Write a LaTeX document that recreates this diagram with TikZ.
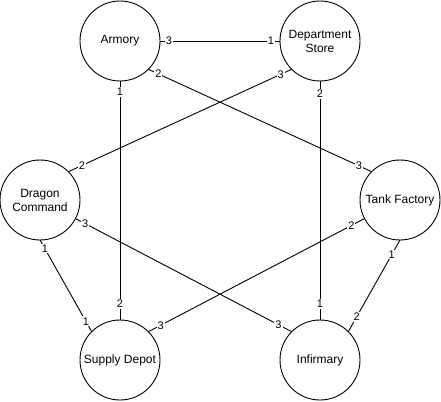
\documentclass[tikz,border=0pt]{standalone}
\usepackage{fontspec}
\setmainfont{Liberation Sans}
\usepackage{tikz}
\usetikzlibrary{positioning,calc}

\begin{document}
\begin{tikzpicture}[x=1pt, y=-1pt, line width=0.9pt,
    place/.style={circle, draw, fill=white, minimum size=80pt, inner sep=0pt, outer sep=0pt, align=center, font=\fontsize{12}{14}\selectfont},
    lbl/.style={fill=white, inner sep=1pt, font=\fontsize{11}{12}\selectfont}]
    \useasboundingbox (0,0) rectangle (441,401);

    \node[place] (armory) at (120,41) {Armory};
    \node[place] (store) at (320,41) {Department\\Store};
    \node[place] (dragon) at (40,200) {Dragon\\Command};
    \node[place] (tank) at (400,200) {Tank Factory};
    \node[place] (depot) at (120,360) {Supply Depot};
    \node[place] (infirmary) at (320,360) {Infirmary};

    \draw (armory.east) -- node[lbl, pos=0.075] {3} node[lbl, pos=0.925] {1} (store.west);
    \draw (armory.south) -- node[lbl, pos=0.046] {1} node[lbl, pos=0.933] {2} (depot.north);
    \draw (armory.south east) -- node[lbl, pos=0.045] {2} node[lbl, pos=0.943] {3} (tank.north west);
    \draw (store.south west) -- node[lbl, pos=0.049] {3} node[lbl, pos=0.939] {2} (dragon.north east);
    \draw (store.south) -- node[lbl, pos=0.054] {2} node[lbl, pos=0.933] {1} (infirmary.north);
    \draw (dragon.south) -- node[lbl, pos=0.095] {1} node[lbl, pos=0.886] {1} (depot.north west);
    \draw (dragon) -- node[lbl, pos=0.045] {3} node[lbl, pos=0.939] {3} (infirmary.north west);
    \draw (tank) -- node[lbl, pos=0.061] {2} node[lbl, pos=0.943] {3} (depot.north east);
    \draw (tank.south) -- node[lbl, pos=0.16] {1} node[lbl, pos=0.84] {2} (infirmary.north east);
\end{tikzpicture}
\end{document}
